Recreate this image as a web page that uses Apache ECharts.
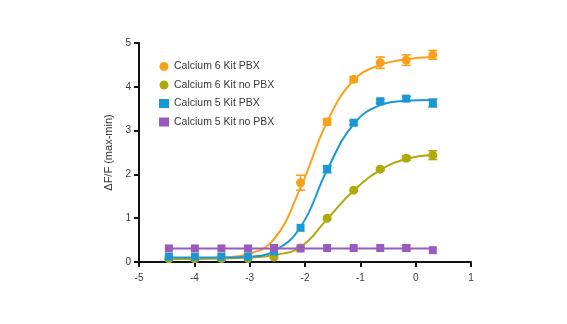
<!DOCTYPE html>
<html>
<head>
<meta charset="utf-8">
<script src="https://cdn.jsdelivr.net/npm/echarts@6/dist/echarts.min.js"></script>
<style>
  html, body { margin: 0; padding: 0; background: #fff; }
  #chart { width: 567px; height: 324px; }
</style>
</head>
<body>
<div id="chart"></div>
<script>
// log concentration of each well (1:3 dilution series)
const logConc = [-4.46, -3.99, -3.51, -3.03, -2.56, -2.08, -1.6, -1.12, -0.64, -0.17, 0.31];

// measured responses (null = no marker)
const cal6Pbx   = [0.08, 0.08, 0.09, 0.12, null, 1.81, 3.2, 4.17, 4.55, 4.61, 4.73];
const cal6NoPbx = [0.08, 0.08, 0.08, 0.08, 0.11, 0.32, 1.0, 1.64, 2.12, 2.37, 2.44];
const cal5Pbx   = [0.12, 0.12, 0.12, 0.12, 0.24, 0.78, 2.12, 3.18, 3.67, 3.73, 3.63];
const cal5NoPbx = [0.31, 0.31, 0.31, 0.31, 0.32, 0.31, 0.32, 0.32, 0.32, 0.32, 0.27];

// error bar half-heights
const cal6PbxErr   = [0, 0, 0, 0, 0, 0.17, 0.07, 0.06, 0.13, 0.12, 0.1];
const cal6NoPbxErr = [0, 0, 0, 0, 0, 0, 0, 0, 0.03, 0.05, 0.1];
const cal5PbxErr   = [0, 0, 0, 0, 0, 0, 0.08, 0.05, 0.04, 0.05, 0.09];
const cal5NoPbxErr = [0, 0, 0, 0, 0, 0, 0, 0, 0, 0.06, 0];

// fitted dose-response curves, sampled at the same concentrations
const cal6PbxFit   = [0.08, 0.08, 0.1, 0.18, 0.52, 1.7, 3.2, 4.15, 4.5, 4.63, 4.68];
const cal6NoPbxFit = [0.06, 0.07, 0.08, 0.1, 0.16, 0.34, 0.98, 1.63, 2.1, 2.35, 2.45];
const cal5PbxFit   = [0.1, 0.1, 0.1, 0.12, 0.25, 0.8, 2.1, 3.15, 3.58, 3.68, 3.7];
const cal5NoPbxFit = [0.31, 0.31, 0.31, 0.31, 0.31, 0.31, 0.31, 0.31, 0.31, 0.31, 0.31];

const names  = ['Calcium 6 Kit PBX', 'Calcium 6 Kit no PBX', 'Calcium 5 Kit PBX', 'Calcium 5 Kit no PBX'];
const colors = ['#F9A01B', '#AFAA0C', '#1A98D5', '#9A5BBE'];
const shapes = ['circle', 'circle', 'rect', 'rect'];
const sizes  = [9, 9, 8, 8];

const values = [cal6Pbx, cal6NoPbx, cal5Pbx, cal5NoPbx];
const errs   = [cal6PbxErr, cal6NoPbxErr, cal5PbxErr, cal5NoPbxErr];
const fits   = [cal6PbxFit, cal6NoPbxFit, cal5PbxFit, cal5NoPbxFit];

const pairs = arr => logConc.map((x, i) => arr[i] == null ? null : [x, arr[i]]).filter(Boolean);

function errorBars(color) {
  return function (params, api) {
    const e = api.value(2);
    if (!e) return null;
    const x = api.value(0), y = api.value(1);
    const top = api.coord([x, y + e]);
    const bot = api.coord([x, y - e]);
    const w = 4.5;
    const style = { stroke: color, lineWidth: 1.6 };
    return {
      type: 'group',
      children: [
        { type: 'line', shape: { x1: top[0], y1: top[1], x2: bot[0], y2: bot[1] }, style },
        { type: 'line', shape: { x1: top[0] - w, y1: top[1], x2: top[0] + w, y2: top[1] }, style },
        { type: 'line', shape: { x1: bot[0] - w, y1: bot[1], x2: bot[0] + w, y2: bot[1] }, style }
      ]
    };
  };
}

const series = [];
// curves first
fits.forEach((f, k) => {
  series.push({
    type: 'line', name: names[k] + ' fit', data: pairs(f), smooth: 0.45,
    showSymbol: false, silent: true,
    lineStyle: { color: colors[k], width: 2 }, z: 2 + k
  });
});
// error bars
values.forEach((v, k) => {
  series.push({
    type: 'custom', name: names[k] + ' err',
    data: logConc.map((x, i) => v[i] == null ? null : [x, v[i], errs[k][i]]).filter(Boolean),
    renderItem: errorBars(colors[k]), z: 6 + k, silent: true
  });
});
// markers
values.forEach((v, k) => {
  series.push({
    type: 'scatter', name: names[k], data: pairs(v),
    symbol: shapes[k], symbolSize: sizes[k],
    itemStyle: { color: colors[k], opacity: 1 }, z: 10 + k
  });
});

const chart = echarts.init(document.getElementById('chart'), null, { renderer: 'canvas' });
chart.setOption({
  animation: false,
  textStyle: { fontFamily: 'Liberation Sans, Arial, sans-serif' },
  grid: { left: 139, right: 96, top: 43, bottom: 62, containLabel: false },
  legend: {
    data: names.map((n, k) => ({ name: n, icon: shapes[k] })),
    orient: 'vertical', left: 154, top: 56,
    itemWidth: 10, itemHeight: 9, itemGap: 7.5, itemTextGap: 5,
    textStyle: { fontSize: 10.5, color: '#3a3a3a', fontFamily: 'Liberation Sans, Arial, sans-serif' }
  },
  xAxis: {
    type: 'value', min: -5, max: 1, interval: 1,
    axisLine: { show: true, onZero: false, lineStyle: { color: '#111', width: 2 } },
    axisTick: { show: true, length: 5, lineStyle: { color: '#111', width: 2 } },
    axisLabel: { fontSize: 10, color: '#3a3a3a', margin: 11 },
    splitLine: { show: false }
  },
  yAxis: {
    type: 'value', min: 0, max: 5, interval: 1,
    name: 'ΔF/F (max-min)', nameLocation: 'middle', nameGap: 20,
    nameTextStyle: { fontSize: 11, color: '#333' },
    axisLine: { show: true, onZero: false, lineStyle: { color: '#111', width: 2 } },
    axisTick: { show: true, length: 5, lineStyle: { color: '#111', width: 2 } },
    axisLabel: { fontSize: 10, color: '#3a3a3a', margin: 8 },
    splitLine: { show: false }
  },
  series
});
</script>
</body>
</html>
